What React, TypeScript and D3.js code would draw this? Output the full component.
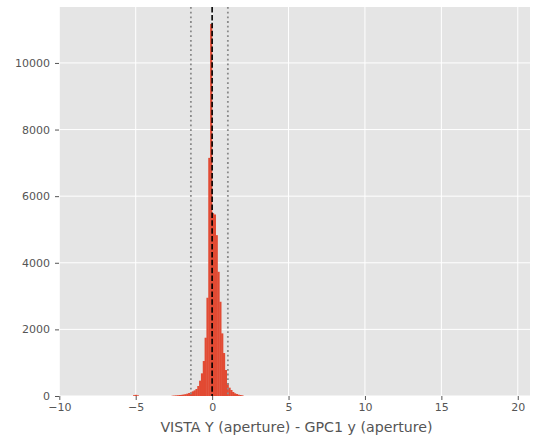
import React, { useEffect, useRef } from 'react';
import * as d3 from 'd3';

// histogram bins (left edge) and counts, bin width 0.12
const binWidth = 0.12;
const binLefts = [
  -5.16, -5.04, -4.92,
  -2.64, -2.52, -2.4, -2.28, -2.16, -2.04, -1.92, -1.8, -1.68, -1.56, -1.44, -1.32, -1.2, -1.08,
  -0.96, -0.84, -0.72, -0.6, -0.48, -0.36, -0.24, -0.12,
  0, 0.12, 0.24, 0.36, 0.48, 0.6, 0.72, 0.84, 0.96, 1.08, 1.2, 1.32, 1.44, 1.56, 1.68, 1.8, 1.92
];
const counts = [
  25, 35, 20,
  10, 15, 20, 25, 30, 35, 45, 55, 70, 90, 110, 140, 170, 210,
  300, 460, 680, 1050, 1750, 2950, 7150, 11170,
  5490, 5450, 4830, 3730, 2830, 1880, 1290, 780, 390, 250, 180, 120, 80, 60, 40, 30, 20
];

const xTicks = [-10, -5, 0, 5, 10, 15, 20];
const yTicks = [0, 2000, 4000, 6000, 8000, 10000];
const medianLine = 0.0;
const percentileLines = [-1.39, 1.03];
const xLabel = 'VISTA Y (aperture) - GPC1 y (aperture)';

const W = 533;
const H = 441;
const margin = { top: 7, right: 3, bottom: 45, left: 59 };

const App: React.FC = () => {
  const svgRef = useRef<SVGSVGElement>(null);

  useEffect(() => {
    if (!svgRef.current) return;
    const svg = d3.select(svgRef.current);
    svg.selectAll('*').remove();

    const innerW = W - margin.left - margin.right;
    const innerH = H - margin.top - margin.bottom;
    const font = '"DejaVu Sans", sans-serif';
    const textColor = '#555555';

    const x = d3.scaleLinear().domain([-10.02, 20.8]).range([0, innerW]);
    const y = d3.scaleLinear().domain([0, 11680]).range([innerH, 0]);

    const g = svg.append('g').attr('transform', `translate(${margin.left},${margin.top})`);

    // background
    g.append('rect').attr('width', innerW).attr('height', innerH).attr('fill', '#E5E5E5');

    // grid
    g.selectAll('.vgrid').data(xTicks).enter().append('line')
      .attr('x1', d => x(d)).attr('x2', d => x(d))
      .attr('y1', 0).attr('y2', innerH)
      .attr('stroke', '#ffffff').attr('stroke-width', 1);
    g.selectAll('.hgrid').data(yTicks).enter().append('line')
      .attr('x1', 0).attr('x2', innerW)
      .attr('y1', d => y(d)).attr('y2', d => y(d))
      .attr('stroke', '#ffffff').attr('stroke-width', 1);

    // bars (slight overlap so no seams between bins)
    g.selectAll('.bar').data(binLefts).enter().append('rect')
      .attr('x', d => x(d) - 0.2)
      .attr('width', d => x(d + binWidth) - x(d) + 0.4)
      .attr('y', (d, i) => y(counts[i]))
      .attr('height', (d, i) => innerH - y(counts[i]))
      .attr('fill', '#E24A33');

    // percentile lines
    g.selectAll('.pline').data(percentileLines).enter().append('line')
      .attr('x1', d => x(d)).attr('x2', d => x(d))
      .attr('y1', 0).attr('y2', innerH)
      .attr('stroke', '#8a8a8a').attr('stroke-width', 1.8)
      .attr('stroke-dasharray', '1.8,2.9');

    // median line
    g.append('line')
      .attr('x1', x(medianLine)).attr('x2', x(medianLine))
      .attr('y1', 0).attr('y2', innerH)
      .attr('stroke', '#000000').attr('stroke-width', 1.6)
      .attr('stroke-dasharray', '5.5,2.4');

    // x axis
    const xAxis = g.append('g').attr('transform', `translate(0,${innerH})`)
      .call(d3.axisBottom(x).tickValues(xTicks).tickSize(4).tickPadding(3)
        .tickFormat(d => d3.format('')(d as number).replace('-', '\u2212')));
    xAxis.select('.domain').remove();
    xAxis.selectAll('line').attr('stroke', textColor);
    xAxis.selectAll('text').attr('fill', textColor).style('font-family', font).style('font-size', '11px');

    // y axis
    const yAxis = g.append('g')
      .call(d3.axisLeft(y).tickValues(yTicks).tickSize(4).tickPadding(5).tickFormat(d3.format('d')));
    yAxis.select('.domain').remove();
    yAxis.selectAll('line').attr('stroke', textColor);
    yAxis.selectAll('text').attr('fill', textColor).style('font-family', font).style('font-size', '11px');

    // axis label
    svg.append('text')
      .attr('x', margin.left + innerW / 2 + 2)
      .attr('y', 432)
      .attr('text-anchor', 'middle')
      .attr('fill', textColor)
      .style('font-family', font)
      .style('font-size', '14.2px')
      .text(xLabel);
  }, []);

  return (
    <svg
      ref={svgRef}
      width={W}
      height={H}
      style={{ position: 'absolute', left: 0, top: 0, background: '#ffffff' }}
    />
  );
};

export default App;
